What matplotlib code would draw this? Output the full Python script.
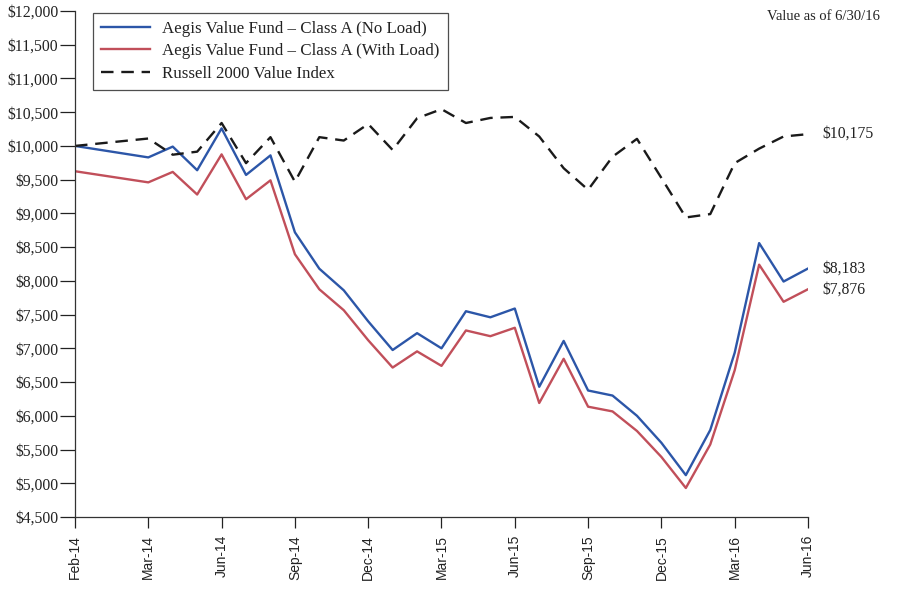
import matplotlib.pyplot as plt
from matplotlib.ticker import FuncFormatter

# month index from inception (Feb-14 = 0); ticks every 3 steps
tick_pos = [0, 3, 6, 9, 12, 15, 18, 21, 24, 27, 30]
tick_labels = ["Feb-14", "Mar-14", "Jun-14", "Sep-14", "Dec-14", "Mar-15",
               "Jun-15", "Sep-15", "Dec-15", "Mar-16", "Jun-16"]

x_pts = [0, 3, 4, 5, 6, 7, 8, 9, 10, 11, 12, 13, 14, 15, 16, 17, 18, 19, 20,
         21, 22, 23, 24, 25, 26, 27, 28, 29, 30]

no_load = [10000, 9830, 9990, 9640, 10260, 9570, 9860, 8720, 8180, 7860,
           7400, 6975, 7225, 7000, 7550, 7460, 7590, 6430, 7110, 6375,
           6300, 6000, 5600, 5120, 5790, 6935, 8560, 7990, 8183]

with_load = [9625, 9460, 9615, 9280, 9875, 9210, 9490, 8395, 7875, 7565,
             7120, 6715, 6955, 6740, 7265, 7180, 7305, 6190, 6845, 6135,
             6065, 5775, 5390, 4930, 5575, 6675, 8240, 7690, 7876]

russell = [10000, 10110, 9870, 9915, 10340, 9745, 10130, 9470, 10130, 10080,
           10325, 9940, 10410, 10545, 10340, 10415, 10430, 10140, 9670, 9350,
           9840, 10105, 9525, 8940, 8990, 9745, 9960, 10140, 10175]

BLUE = "#2c56a8"
RED = "#c14f5a"

plt.rcParams["font.family"] = ["Liberation Serif", "DejaVu Serif"]

fig = plt.figure(figsize=(9.12, 5.95), dpi=100)
ax = fig.add_axes([75 / 912, 1 - 517 / 595, 733 / 912, 506 / 595])

ax.plot(x_pts, no_load, color=BLUE, lw=1.7,
        label="Aegis Value Fund \u2013 Class A (No Load)")
ax.plot(x_pts, with_load, color=RED, lw=1.7,
        label="Aegis Value Fund \u2013 Class A (With Load)")
ax.plot(x_pts, russell, color="#1a1a1a", lw=1.7, dashes=(5.3, 3.3),
        label="Russell 2000 Value Index")

ax.set_xlim(0, 30)
ax.set_ylim(4500, 12000)
ax.set_yticks(range(4500, 12001, 500))
ax.yaxis.set_major_formatter(FuncFormatter(lambda v, p: f"${v:,.0f}"))
ax.set_xticks(tick_pos)
ax.set_xticklabels(tick_labels, rotation=90, family="Liberation Sans",
                   fontsize=10)

for s in ("top", "right"):
    ax.spines[s].set_visible(False)
for s in ("left", "bottom"):
    ax.spines[s].set_linewidth(0.9)
    ax.spines[s].set_color("#333333")
ax.tick_params(axis="y", direction="out", length=10.5, width=0.9, pad=1.5,
               labelsize=11.3, colors="#222222")
ax.tick_params(axis="x", direction="out", length=8, width=0.9, pad=5,
               colors="#222222")

# end-value labels
for series in (russell, no_load, with_load):
    ax.annotate(f"${series[-1]:,.0f}", xy=(x_pts[-1], series[-1]),
                xytext=(10.5, 0), textcoords="offset points", va="center",
                ha="left", fontsize=11.3, color="#222222",
                annotation_clip=False)

fig.text(880 / 912, 1 - 17 / 595, "Value as of 6/30/16", ha="right",
         va="center", fontsize=10.5, color="#222222")

leg = ax.legend(loc="upper left", bbox_to_anchor=(0.024, 0.997),
                fontsize=12.2, frameon=True, fancybox=False,
                edgecolor="#222222", handlelength=2.9, borderpad=0.5,
                labelspacing=0.38, handletextpad=0.7, borderaxespad=0)
leg.get_frame().set_linewidth(0.9)
for t in leg.get_texts():
    t.set_color("#222222")

fig.savefig("out.png", dpi=100)
